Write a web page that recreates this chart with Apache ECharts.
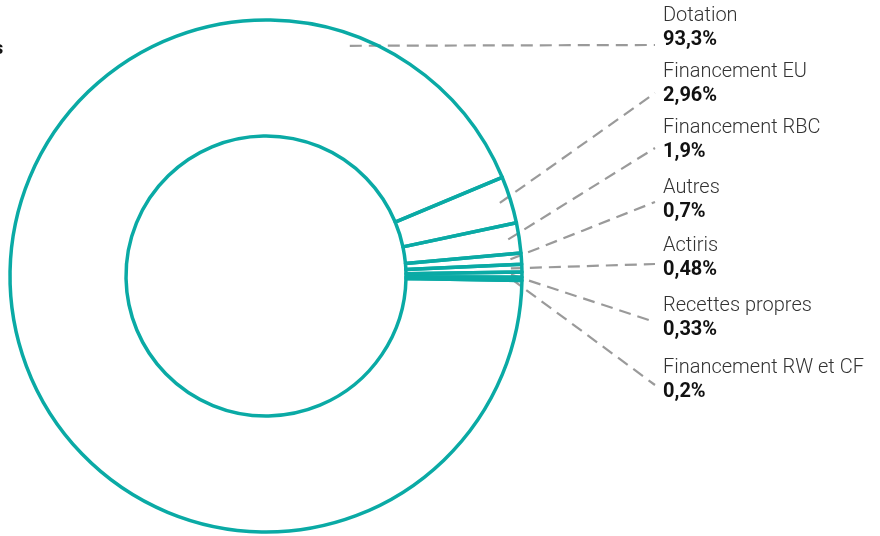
<!DOCTYPE html>
<html>
<head>
<meta charset="utf-8">
<script src="https://cdn.jsdelivr.net/npm/echarts@6/dist/echarts.min.js"></script>
<style>
  html, body { margin: 0; padding: 0; background: #fff; }
  #chart { width: 880px; height: 536px; }
</style>
</head>
<body>
<div id="chart"></div>
<script>
// ---- data ----
const categories = ['Dotation', 'Financement EU', 'Financement RBC', 'Autres', 'Actiris', 'Recettes propres', 'Financement RW et CF'];
const values = [93.3, 2.96, 1.9, 0.7, 0.48, 0.33, 0.2];

// ---- layout (positions only) ----
const CX = 266, CY = 276, R_IN = 140, R_OUT = 256;
const START_ANGLE = -1;
const labelX = 663;
const labelCenterY = [28, 84, 139.5, 199.5, 258, 318, 379.5];
const lineEndX = 655;
const lineEndY = [45, 93, 148, 202, 264, 322, 385];
const firstAnchorAngle = 70; // where the leader of the big slice leaves the ring

const total = values.reduce((a, b) => a + b, 0);
function midAngle(i) {
  let cum = 0;
  for (let k = 0; k < i; k++) cum += values[k];
  return START_ANGLE - (cum + values[i] / 2) / total * 360;
}
function fmt(v) { return String(v).replace('.', ',') + '%'; }

const chart = echarts.init(document.getElementById('chart'), null, { renderer: 'canvas' });
chart.setOption({
  animation: false,
  backgroundColor: '#ffffff',
  graphic: [{
    type: 'text', x: -6, y: 40, silent: true,
    style: { text: 's', font: 'bold 18px Roboto', fill: '#111' }
  }],
  series: [{
    type: 'pie',
    center: [CX, CY],
    radius: [R_IN, R_OUT],
    startAngle: START_ANGLE,
    clockwise: true,
    silent: true,
    emphasis: { disabled: true },
    avoidLabelOverlap: false,
    itemStyle: { color: 'rgba(255,255,255,0)', borderColor: '#0aaaa5', borderWidth: 3.5, borderJoin: 'round' },
    label: {
      show: true,
      position: 'outer',
      formatter: p => '{n|' + p.name + '}\n{v|' + fmt(p.value) + '}',
      rich: {
        n: { fontFamily: 'Roboto', fontSize: 20, fontWeight: 300, color: '#333333', lineHeight: 24 },
        v: { fontFamily: 'Roboto', fontSize: 20, fontWeight: 'bold', color: '#111111', lineHeight: 24 }
      }
    },
    labelLine: {
      show: true,
      maxSurfaceAngle: 180,
      minTurnAngle: 0,
      lineStyle: { color: '#9a9a9a', width: 2.2, type: [12, 7] }
    },
    labelLayout: function (params) {
      const i = params.dataIndex;
      const ang = (i === 0 ? firstAnchorAngle : midAngle(i)) * Math.PI / 180;
      const r = R_OUT - 11;
      const sx = CX + r * Math.cos(ang);
      const sy = CY - r * Math.sin(ang);
      const ex = lineEndX, ey = lineEndY[i];
      return {
        x: labelX,
        y: labelCenterY[i],
        align: 'left',
        verticalAlign: 'middle',
        labelLinePoints: [[sx, sy], [(sx + ex) / 2, (sy + ey) / 2], [ex, ey]]
      };
    },
    data: categories.map((c, i) => ({ name: c, value: values[i] }))
  }]
});
</script>
</body>
</html>
